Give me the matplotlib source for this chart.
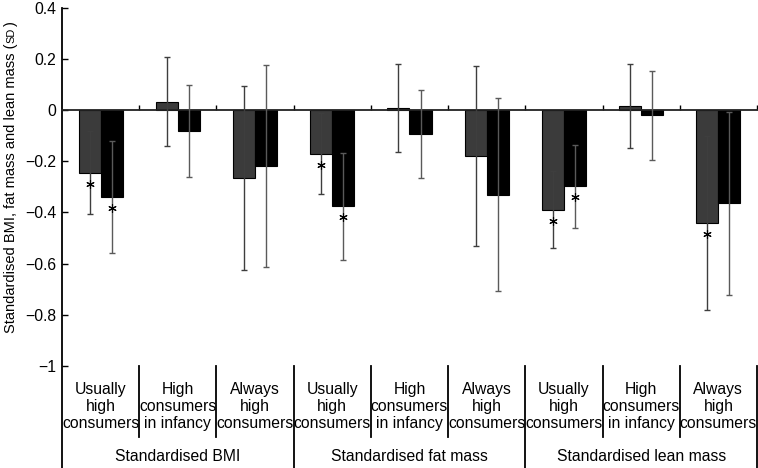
import numpy as np
import matplotlib
matplotlib.use('Agg')
import matplotlib.pyplot as plt

plt.rcParams['font.family'] = ['Liberation Sans', 'DejaVu Sans']

# data
outcomes = ['Standardised BMI', 'Standardised fat mass', 'Standardised lean mass']
patterns = ['Usually\nhigh\nconsumers', 'High\nconsumers\nin infancy', 'Always\nhigh\nconsumers']

grey_vals = [-0.244, 0.034, -0.267, -0.170, 0.010, -0.179, -0.389, 0.017, -0.441]
grey_err = [0.162, 0.174, 0.360, 0.159, 0.172, 0.354, 0.151, 0.164, 0.339]
black_vals = [-0.339, -0.082, -0.219, -0.376, -0.094, -0.330, -0.297, -0.020, -0.364]
black_err = [0.220, 0.180, 0.395, 0.210, 0.173, 0.378, 0.162, 0.173, 0.359]
grey_sig = [True, False, False, True, False, False, True, False, True]
black_sig = [True, False, False, True, False, False, True, False, False]

yticks = [-1, -0.8, -0.6, -0.4, -0.2, 0, 0.2, 0.4]
ytick_labels = ['\u22121', '\u22120.8', '\u22120.6', '\u22120.4', '\u22120.2', '0', '0.2', '0.4']

FS = 11.3
W, H = 758, 468

fig = plt.figure(figsize=(W / 100, H / 100), dpi=100)
ax = fig.add_axes([62 / W, 0, 695 / W, 460 / H])

n = len(grey_vals)
x = np.arange(n) + 0.5
bw = 0.285

ax.bar(x - bw / 2, grey_vals, bw, color='#3b3b3b', edgecolor='black', lw=0.8, zorder=2)
ax.bar(x + bw / 2, black_vals, bw, color='black', edgecolor='black', lw=0.8, zorder=2)
ax.errorbar(x - bw / 2, grey_vals, yerr=grey_err, fmt='none', ecolor='#3e3e3e',
            elinewidth=1, capsize=2.3, capthick=1, zorder=3)
ax.errorbar(x + bw / 2, black_vals, yerr=black_err, fmt='none', ecolor='#5a5a5a',
            elinewidth=1, capsize=2.3, capthick=1, zorder=3)

# significance stars just below the bar ends
for xs, vals, sig in [(x - bw / 2, grey_vals, grey_sig), (x + bw / 2, black_vals, black_sig)]:
    for xi, v, s in zip(xs, vals, sig):
        if s:
            ax.plot(xi, v - 0.043, marker=(6, 2, 0), ms=6, mew=0.8, color='black', zorder=4)

ax.set_xlim(0, n)
ax.set_ylim(-1.4, 0.4)

ax.spines['top'].set_visible(False)
ax.spines['right'].set_visible(False)
ax.spines['left'].set_linewidth(1.3)
ax.spines['bottom'].set_position(('data', 0))
ax.spines['bottom'].set_linewidth(1.3)
ax.spines['bottom'].set_color('#222222')

ax.set_yticks(yticks)
ax.set_yticklabels(ytick_labels, fontsize=FS)
ax.tick_params(axis='y', direction='in', length=4, width=1, pad=4)
ax.set_xticks(np.arange(1, n + 1))
ax.set_xticklabels([])
ax.tick_params(axis='x', direction='in', length=3.5, width=1)

# category labels below the plot
for xi, lab in zip(x, patterns * len(outcomes)):
    ax.text(xi, -1.16, lab, ha='center', va='center', fontsize=FS, linespacing=1.16)
for k, lab in enumerate(outcomes):
    ax.text(3 * k + 1.5, -1.355, lab, ha='center', va='center', fontsize=FS)

for b in range(1, n + 1):
    if b % 3 == 0:
        ax.plot([b, b], [-1.0, -1.4], color='black', lw=1.3, clip_on=False)
    else:
        ax.plot([b, b], [-1.0, -1.28], color='black', lw=1.3, clip_on=False)

# y label with small-caps SD
fig.canvas.draw()
renderer = fig.canvas.get_renderer()
xl = 14.5 / W
YFS = 10.5
t1 = fig.text(xl, 1 - 333 / H, 'Standardised BMI, fat mass and lean mass (', rotation=90,
              rotation_mode='anchor', ha='left', va='baseline', fontsize=YFS)
bb = t1.get_window_extent(renderer)
t2 = fig.text(xl, bb.y1 / H + 0.002, 'SD', rotation=90, rotation_mode='anchor',
              ha='left', va='baseline', fontsize=YFS * 0.75)
bb2 = t2.get_window_extent(renderer)
fig.text(xl, bb2.y1 / H + 0.002, ')', rotation=90, rotation_mode='anchor',
         ha='left', va='baseline', fontsize=YFS)

fig.savefig('out.png', dpi=100)
